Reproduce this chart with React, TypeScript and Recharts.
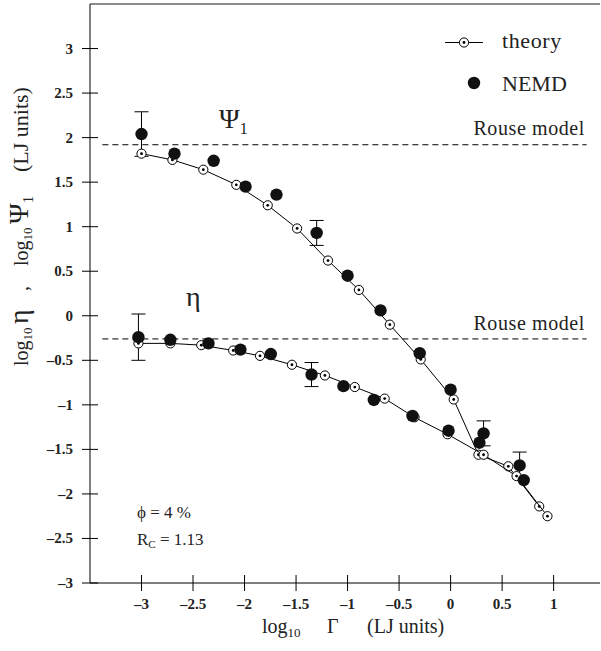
import { ScatterChart, Scatter, XAxis, YAxis, ErrorBar, ReferenceLine } from "recharts";

// log10 Gamma values and log10 Psi1 / log10 eta values
const psiTheoryX = [-3.0, -2.7, -2.4, -2.08, -1.775, -1.49, -1.19, -0.89, -0.59, -0.29, 0.03, 0.27, 0.56, 0.86];
const psiTheoryY = [1.82, 1.75, 1.64, 1.47, 1.24, 0.98, 0.62, 0.29, -0.1, -0.49, -0.94, -1.56, -1.69, -2.14];

const etaTheoryX = [-3.03, -2.72, -2.42, -2.11, -1.85, -1.54, -1.22, -0.93, -0.64, -0.35, -0.03, 0.32, 0.64, 0.94];
const etaTheoryY = [-0.31, -0.31, -0.33, -0.39, -0.45, -0.55, -0.67, -0.8, -0.93, -1.14, -1.33, -1.56, -1.8, -2.25];

const psiNemdX = [-3.0, -2.68, -2.3, -1.99, -1.69, -1.3, -1.0, -0.68, -0.3, 0.0, 0.32, 0.67];
const psiNemdY = [2.04, 1.82, 1.74, 1.45, 1.36, 0.93, 0.45, 0.06, -0.42, -0.83, -1.32, -1.68];
const psiNemdErr = [0.25, null, null, null, null, 0.14, null, null, null, null, 0.14, 0.15];

const etaNemdX = [-3.03, -2.72, -2.35, -2.04, -1.745, -1.35, -1.04, -0.745, -0.37, -0.02, 0.28, 0.71];
const etaNemdY = [-0.24, -0.27, -0.31, -0.38, -0.43, -0.66, -0.79, -0.945, -1.125, -1.29, -1.425, -1.845];
const etaNemdErr = [0.26, null, null, null, null, 0.135, null, null, null, null, null, null];

const xTicks = [-3, -2.5, -2, -1.5, -1, -0.5, 0, 0.5, 1];
const yTicks = [-3, -2.5, -2, -1.5, -1, -0.5, 0, 0.5, 1, 1.5, 2, 2.5, 3];

const rousePsi = 1.92;
const rouseEta = -0.26;

const zip = (xs: number[], ys: number[], errs?: (number | null)[]) =>
  xs.map((x, i) => ({ x, y: ys[i], err: errs && errs[i] != null ? errs[i] : undefined }));

const psiTheory = zip(psiTheoryX, psiTheoryY);
const etaTheory = zip(etaTheoryX, etaTheoryY);
const psiNemd = zip(psiNemdX, psiNemdY, psiNemdErr);
const etaNemd = zip(etaNemdX, etaNemdY, etaNemdErr);

const SERIF = "Liberation Serif, DejaVu Serif, serif";
const serif = { fontFamily: SERIF };

const fmt = (v: number) => (v < 0 ? `\u2013${Math.abs(v)}` : `${v}`);

function TheoryDot(props: any) {
  const { cx, cy } = props;
  if (cx == null || cy == null) return null;
  return (
    <g>
      <circle cx={cx} cy={cy} r={4.6} fill="#fff" stroke="#000" strokeWidth={1} />
      <circle cx={cx} cy={cy} r={1.4} fill="#000" />
    </g>
  );
}

function NemdDot(props: any) {
  const { cx, cy } = props;
  if (cx == null || cy == null) return null;
  return <circle cx={cx} cy={cy} r={6.2} fill="#111" />;
}

function YTick(props: any) {
  const { x, y, payload } = props;
  return (
    <g>
      <line x1={x - 8} x2={x + 8} y1={y} y2={y} stroke="#000" strokeWidth={1} />
      <text x={x - 17} y={y} dy={5} textAnchor="end" style={serif} fontWeight="bold" fontSize={15} fill="#222">
        {fmt(payload.value)}
      </text>
    </g>
  );
}

function XTick(props: any) {
  const { x, y, payload } = props;
  return (
    <g>
      <line x1={x} x2={x} y1={y - 8} y2={y + 8} stroke="#000" strokeWidth={1} />
      <text x={x} y={y + 26} textAnchor="middle" style={serif} fontWeight="bold" fontSize={15} fill="#222">
        {fmt(payload.value)}
      </text>
    </g>
  );
}

export default function App() {
  return (
    <div style={{ position: "absolute", left: 0, top: 0, width: 601, height: 651, background: "#fff" }}>
      <ScatterChart width={601} height={651} margin={{ top: 4, right: 1, bottom: 38, left: 0 }}>
        <XAxis
          type="number"
          dataKey="x"
          domain={[-3.5, 1.45]}
          ticks={xTicks}
          tick={<XTick />}
          tickSize={0}
          tickMargin={0}
          height={30}
          axisLine={{ stroke: "#555", strokeWidth: 1.5 }}
          allowDataOverflow
        />
        <YAxis
          type="number"
          dataKey="y"
          domain={[-3, 3.5]}
          ticks={yTicks}
          tick={<YTick />}
          tickSize={0}
          tickMargin={0}
          width={90}
          axisLine={{ stroke: "#000", strokeWidth: 1 }}
          allowDataOverflow
        />
        <ReferenceLine y={3.5} stroke="#666" strokeWidth={1.5} />
        <ReferenceLine
          segment={[{ x: -3.38, y: rousePsi }, { x: 1.32, y: rousePsi }]}
          stroke="#000"
          strokeDasharray="6 4"
        />
        <ReferenceLine
          segment={[{ x: -3.38, y: rouseEta }, { x: 1.32, y: rouseEta }]}
          stroke="#000"
          strokeDasharray="6 4"
        />
        <Scatter data={psiTheory} line={{ stroke: "#000", strokeWidth: 1 }} shape={<TheoryDot />} isAnimationActive={false} />
        <Scatter data={etaTheory} line={{ stroke: "#000", strokeWidth: 1 }} shape={<TheoryDot />} isAnimationActive={false} />
        <Scatter data={psiNemd} shape={<NemdDot />} isAnimationActive={false}>
          <ErrorBar dataKey="err" direction="y" width={7} stroke="#000" strokeWidth={1} />
        </Scatter>
        <Scatter data={etaNemd} shape={<NemdDot />} isAnimationActive={false}>
          <ErrorBar dataKey="err" direction="y" width={7} stroke="#000" strokeWidth={1} />
        </Scatter>
      </ScatterChart>

      <svg
        width={601}
        height={651}
        style={{ position: "absolute", left: 0, top: 0, pointerEvents: "none", fontFamily: SERIF }}
        fill="#222"
      >
        {/* legend */}
        <line x1={445} x2={483} y1={42.5} y2={42.5} stroke="#000" strokeWidth={1} />
        <circle cx={464} cy={42.5} r={4.6} fill="#fff" stroke="#000" />
        <circle cx={464} cy={42.5} r={1.4} fill="#000" />
        <text x={502} y={48} fontSize={22} letterSpacing={0.6} style={serif}>theory</text>
        <circle cx={474} cy={83} r={6.2} fill="#111" />
        <text x={502} y={91} fontSize={22} style={serif}>NEMD</text>

        {/* curve labels */}
        <text x={219} y={128} fontSize={28} style={serif}>
          Ψ<tspan fontSize={16} dy={6}>1</tspan>
        </text>
        <text x={186} y={306} fontSize={28} style={serif}>η</text>
        <text x={585} y={135} fontSize={20} textAnchor="end" letterSpacing={0.6} style={serif}>Rouse model</text>
        <text x={585} y={330} fontSize={20} textAnchor="end" letterSpacing={0.6} style={serif}>Rouse model</text>

        {/* parameters */}
        <text x={137} y={518} fontSize={17} style={serif}>ϕ = 4 %</text>
        <text x={137} y={545} fontSize={17} style={serif}>
          R<tspan fontSize={11} dy={3}>C</tspan>
          <tspan dy={-3}> = 1.13</tspan>
        </text>

        {/* x axis title */}
        <text y={633} fontSize={20} style={serif}>
          <tspan x={262}>log</tspan>
          <tspan fontSize={13} dy={4}>10</tspan>
          <tspan x={327} dy={-4}>Γ</tspan>
          <tspan x={367}>(LJ units)</tspan>
        </text>

        {/* y axis title */}
        <text transform="rotate(-90)" y={28} fontSize={20} style={serif}>
          <tspan x={-366}>log</tspan>
          <tspan fontSize={13} dy={4}>10</tspan>
          <tspan x={-324} fontSize={28} dy={-4}>η</tspan>
          <tspan x={-291}>,</tspan>
          <tspan x={-266}>log</tspan>
          <tspan fontSize={13} dy={4}>10</tspan>
          <tspan x={-224} fontSize={28} dy={-4}>Ψ</tspan>
          <tspan fontSize={15} dy={5}>1</tspan>
          <tspan x={-172} fontSize={22} dy={-5}>(LJ units)</tspan>
        </text>
      </svg>
    </div>
  );
}
